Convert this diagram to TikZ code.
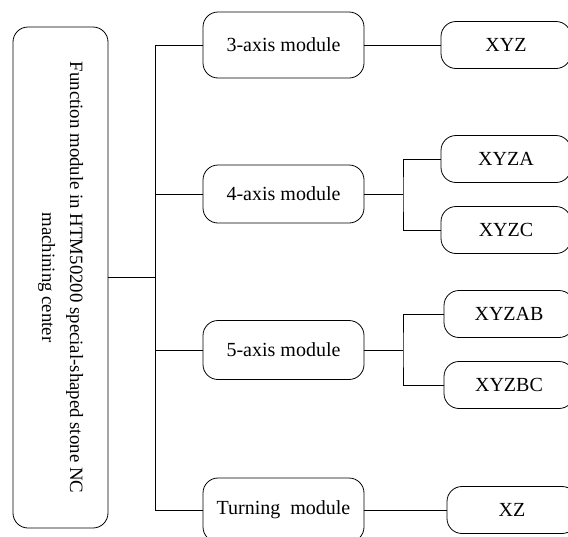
\documentclass[tikz,border=0pt]{standalone}
\usepackage{fontspec}
\setmainfont{Liberation Serif}
\usetikzlibrary{positioning,calc}

\begin{document}
\begin{tikzpicture}[x=1pt,y=-1pt,font=\fontsize{20}{28}\selectfont,line width=0.8pt,
    box/.style={draw,rounded corners=15pt,inner sep=0pt,align=center},
    modbox/.style={box,minimum width=161pt,minimum height=60pt},
    leafbox/.style={box,minimum width=130pt,minimum height=47pt}]
    \useasboundingbox (0,0) rectangle (568,536);

    % main function block
    \node[box,rotate=-90,minimum width=501pt,minimum height=95pt,
        font=\fontsize{18.8}{28}\selectfont] (main) at (60.5,277.5)
        {Function module in HTM50200 special-shaped stone NC\\machining center};

    % modules
    \node[modbox,minimum height=66pt] (ax3) at (283.5,45) {3-axis module};
    \node[modbox,minimum height=58pt] (ax4) at (283.5,194) {4-axis module};
    \node[modbox,minimum height=59pt] (ax5) at (283.5,350) {5-axis module};
    \node[modbox,minimum height=64pt] (turn) at (283.5,510) {Turning~ module};

    % axis combinations
    \node[leafbox] (xyz) at (506,45) {XYZ};
    \node[leafbox] (xyza) at (506,159) {XYZA};
    \node[leafbox] (xyzc) at (506,230) {XYZC};
    \node[leafbox] (xyzab) at (509,314) {XYZAB};
    \node[leafbox] (xyzbc) at (509,385) {XYZBC};
    \node[leafbox] (xz) at (512,510) {XZ};

    % bus
    \coordinate (bus) at (155,277.5);
    \draw (main.north) -- (bus);
    \draw (bus |- ax3.west) -- (bus |- turn.west);
    \draw (bus |- ax3.west) -- (ax3.west);
    \draw (bus |- ax4.west) -- (ax4.west);
    \draw (bus |- ax5.west) -- (ax5.west);
    \draw (bus |- turn.west) -- (turn.west);

    % branches
    \draw (ax3.east) -- (xyz.west);
    \draw (ax4.east) -- (403,194) coordinate (br4);
    \draw (xyza.west) -| (br4) |- (xyzc.west);
    \draw (ax5.east) -- (403,350) coordinate (br5);
    \draw (xyzab.west) -| (br5) |- (xyzbc.west);
    \draw (turn.east) -- (xz.west);
\end{tikzpicture}
\end{document}
